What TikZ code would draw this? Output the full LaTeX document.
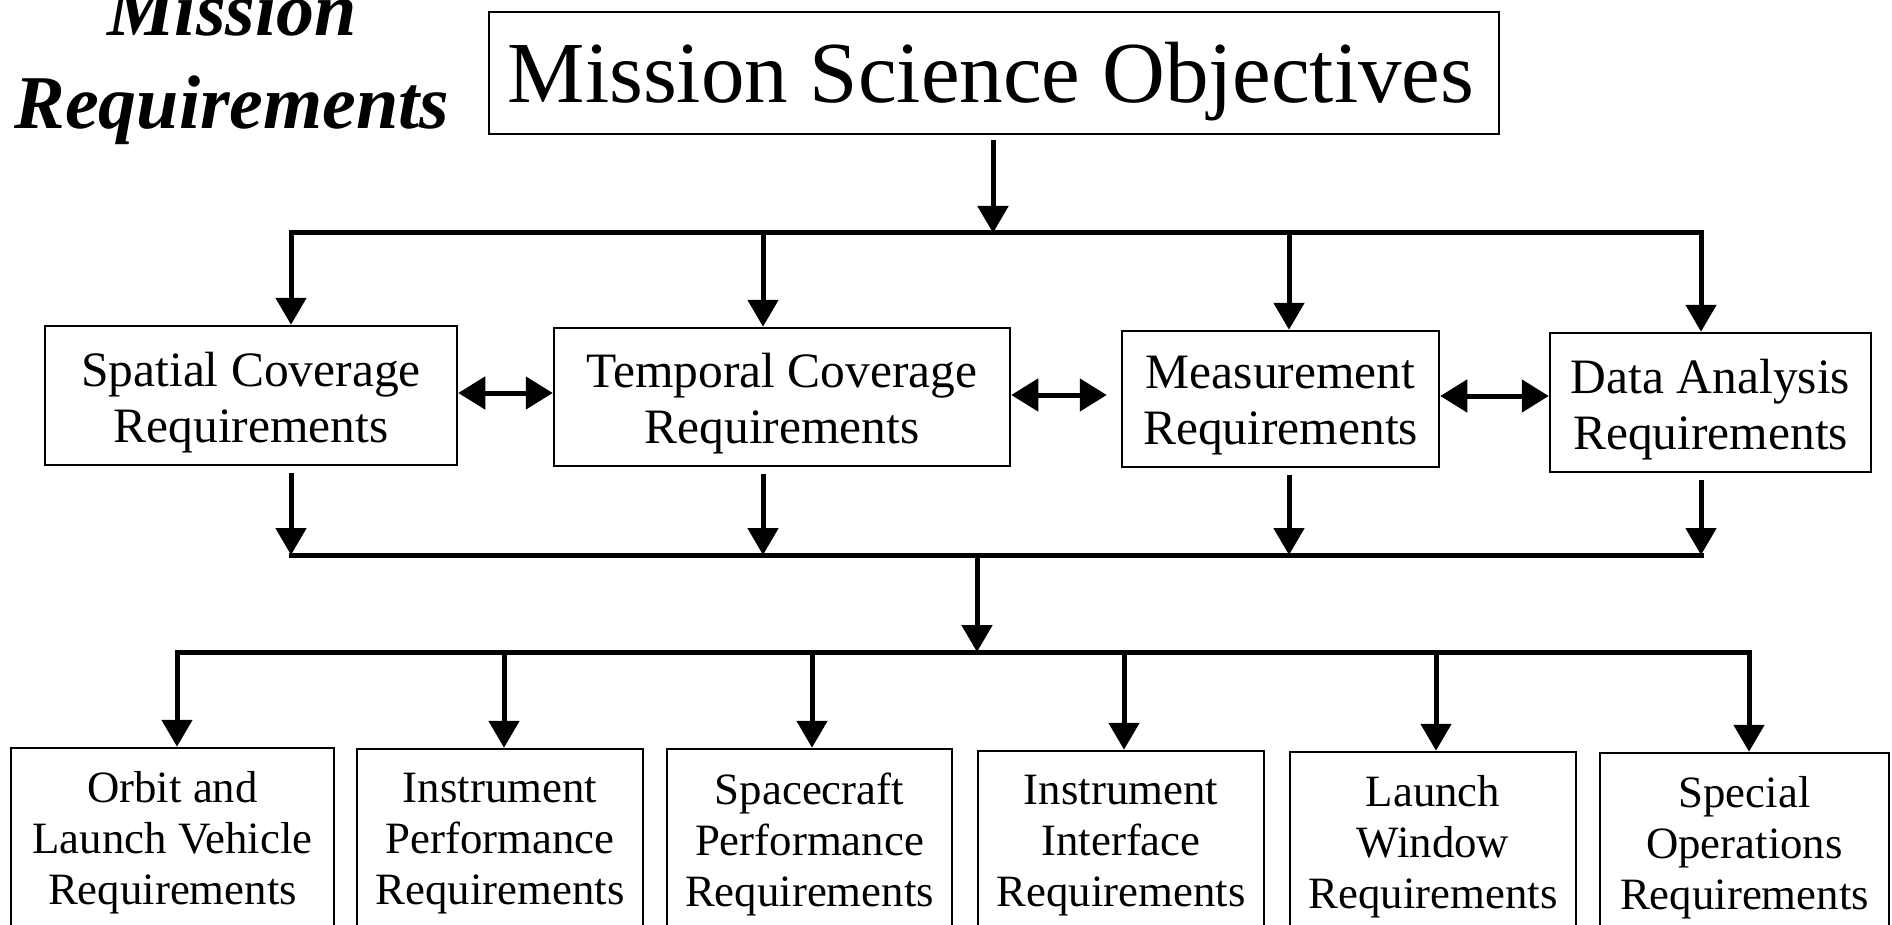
\documentclass[tikz,border=0pt]{standalone}
\usepackage{fontspec}
\setmainfont{Liberation Serif}
\usetikzlibrary{arrows.meta}
\begin{document}
\begin{tikzpicture}[x=1pt,y=-1pt,
  box/.style={draw, line width=2.5pt, inner sep=0pt},
  conn/.style={line width=5pt},
  hline/.style={line width=5pt, line cap=rect},
  arr/.style={conn, -{Triangle[length=27pt,width=30pt]}},
  dbl/.style={conn, {Triangle[length=27pt,width=32pt]}-{Triangle[length=27pt,width=32pt]}},
  midtxt/.style={font=\fontsize{49.5}{56}\selectfont, align=center, inner sep=0pt},
  bottxt/.style={font=\fontsize{44.8}{51}\selectfont, align=center, inner sep=0pt},
]
\useasboundingbox (0,0) rectangle (1892,925);
\clip (0,0) rectangle (1892,925);
\fill[white] (0,0) rectangle (1892,925);

% title
\node[font=\fontsize{76}{93}\selectfont\bfseries\itshape, align=center, inner sep=0pt] (title) at (232,64) {Mission\\Requirements};

% main box
\node[box, minimum width=1010pt, minimum height=122pt] (main) at (994,73) {};
\node[font=\fontsize{87}{100}\selectfont, anchor=base, inner sep=0pt] (maintxt) at (991,103) {Mission Science Objectives};

% middle boxes
\node[box, minimum width=412pt, minimum height=139pt] (spatial) at (251,395.5) {};
\node[box, minimum width=456pt, minimum height=138pt] (temporal) at (782,397) {};
\node[box, minimum width=317pt, minimum height=136pt] (measure) at (1280.5,399) {};
\node[box, minimum width=321pt, minimum height=139pt] (data) at (1710.5,402.5) {};
\node[midtxt] (spatialtxt) at (251,402.5) {Spatial Coverage\\Requirements};
\node[midtxt] (temporaltxt) at (782,404) {Temporal Coverage\\Requirements};
\node[midtxt] (measuretxt) at (1280.5,406) {Measurement\\Requirements};
\node[midtxt] (datatxt) at (1710.5,409.5) {Data Analysis\\Requirements};

% bottom boxes
\node[box, minimum width=323pt, minimum height=200pt] (orbit) at (172.5,848) {};
\node[box, minimum width=286pt, minimum height=200pt] (instperf) at (500,849) {};
\node[box, minimum width=285pt, minimum height=200pt] (scperf) at (809.5,849) {};
\node[box, minimum width=286pt, minimum height=200pt] (instif) at (1121,851) {};
\node[box, minimum width=286pt, minimum height=200pt] (launch) at (1433,852) {};
\node[box, minimum width=289pt, minimum height=200pt] (special) at (1744.5,853) {};
\node[bottxt] (orbittxt) at (172.5,843) {Orbit and\\Launch Vehicle\\Requirements};
\node[bottxt] (instperftxt) at (500,844) {Instrument\\Performance\\Requirements};
\node[bottxt] (scperftxt) at (809.5,844) {Spacecraft\\Performance\\Requirements};
\node[bottxt] (instiftxt) at (1121,846) {Instrument\\Interface\\Requirements};
\node[bottxt] (launchtxt) at (1433,847) {Launch\\Window\\Requirements};
\node[bottxt] (specialtxt) at (1744.5,848) {Special\\Operations\\Requirements};

% bus coordinates
\coordinate (a0) at (993,233);
\coordinate (a1) at (291,233);
\coordinate (a2) at (763,233);
\coordinate (a3) at (1289,233);
\coordinate (a4) at (1701,233);
\coordinate (b1) at (291,555);
\coordinate (b2) at (763,555);
\coordinate (b3) at (1289,555);
\coordinate (b4) at (1701,555);
\coordinate (b0) at (977,555);
\coordinate (c0) at (977,652);
\coordinate (c1) at (177,652);
\coordinate (c2) at (504,652);
\coordinate (c3) at (812,652);
\coordinate (c4) at (1124,652);
\coordinate (c5) at (1436,652);
\coordinate (c6) at (1749,652);
\coordinate (h1) at (0,393);
\coordinate (h2) at (0,395);
\coordinate (h3) at (0,396);

% top connector
\draw[arr, shorten <=5pt] (main.south -| a0) -- (a0);
\draw[hline] (a1) -- (a4);
\draw[arr] (a1) -- (a1 |- spatial.north);
\draw[arr] (a2) -- (a2 |- temporal.north);
\draw[arr] (a3) -- (a3 |- measure.north);
\draw[arr] (a4) -- (a4 |- data.north);

% double arrows
\draw[dbl] (spatial.east |- h1) -- (temporal.west |- h1);
\draw[dbl, shorten >=14pt] (temporal.east |- h2) -- (measure.west |- h2);
\draw[dbl] (measure.east |- h3) -- (data.west |- h3);

% middle to bus 2
\draw[arr, shorten <=7pt] (spatial.south -| b1) -- (b1);
\draw[arr, shorten <=7pt] (temporal.south -| b2) -- (b2);
\draw[arr, shorten <=7pt] (measure.south -| b3) -- (b3);
\draw[arr, shorten <=7pt] (data.south -| b4) -- (b4);
\draw[hline] (b1) -- (b4);

% bus 2 to bus 3
\draw[arr] (b0) -- (c0);
\draw[hline] (c1) -- (c6);
\draw[arr] (c1) -- (c1 |- orbit.north);
\draw[arr] (c2) -- (c2 |- instperf.north);
\draw[arr] (c3) -- (c3 |- scperf.north);
\draw[arr] (c4) -- (c4 |- instif.north);
\draw[arr] (c5) -- (c5 |- launch.north);
\draw[arr] (c6) -- (c6 |- special.north);
\end{tikzpicture}
\end{document}
